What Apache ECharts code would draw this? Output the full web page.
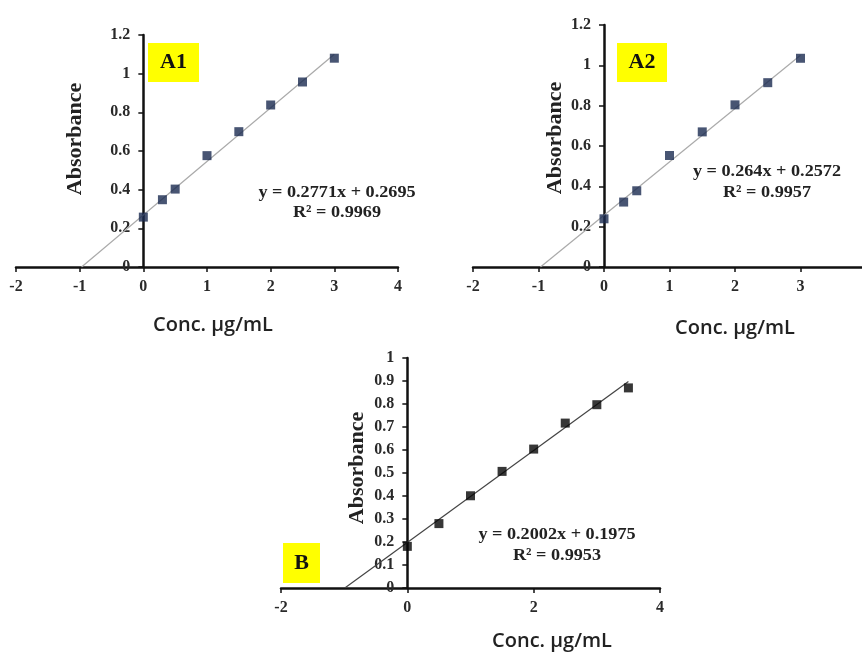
<!DOCTYPE html>
<html><head><meta charset="utf-8">
<script src="https://cdn.jsdelivr.net/npm/echarts@6/dist/echarts.min.js"></script>
<style>html,body{margin:0;padding:0;background:#fff}#c{width:862px;height:653px}</style>
</head><body><div id="c"></div>
<script>
// Panel A1
const concA1 = [0, 0.3, 0.5, 1, 1.5, 2, 2.5, 3];
const absA1 = [0.258, 0.348, 0.403, 0.576, 0.70, 0.838, 0.957, 1.08];
const trendA1 = [[-0.97, 0], [3, 1.10]];
const eqA1 = ['y = 0.2771x + 0.2695', 'R² = 0.9969'];
// Panel A2
const concA2 = [0, 0.3, 0.5, 1, 1.5, 2, 2.5, 3];
const absA2 = [0.239, 0.322, 0.378, 0.553, 0.670, 0.804, 0.914, 1.035];
const trendA2 = [[-0.97, 0], [3, 1.05]];
const eqA2 = ['y = 0.264x + 0.2572', 'R² = 0.9957'];
// Panel B
const concB = [0, 0.5, 1, 1.5, 2, 2.5, 3, 3.5];
const absB = [0.181, 0.28, 0.401, 0.507, 0.604, 0.717, 0.797, 0.87];
const trendB = [[-0.99, 0], [3.5, 0.898]];
const eqB = ['y = 0.2002x + 0.1975', 'R² = 0.9953'];
// Labels
const panelLabels = ['A1', 'A2', 'B'];
const xTitle = 'Conc. µg/mL';
const yTitle = 'Absorbance';

const pairs = (xs, ys) => xs.map((x, i) => [x, ys[i]]);
const serif = 'Liberation Serif';
const axisLbl = {fontFamily: serif, fontWeight: 'bold', fontSize: 16, color: '#2a2a2a'};
const X_MIN = -2, X_MAX = 4;

const grids = [
  {left: 16, top: 35, width: 382, height: 232},
  {left: 473, top: 25, width: 393, height: 242},
  {left: 281, top: 358, width: 379, height: 230}
];
// y axis sits at x = 0 of each panel's x axis
const yOffset = g => -g.width * (0 - X_MIN) / (X_MAX - X_MIN);

function xAx(gi, interval) {
  return {gridIndex: gi, type: 'value', min: X_MIN, max: X_MAX, interval: interval,
    axisLine: {onZero: false, lineStyle: {color: '#111', width: 2.5}},
    axisTick: {show: true, length: 5, lineStyle: {color: '#111', width: 1.5}},
    axisLabel: Object.assign({margin: 12}, axisLbl), splitLine: {show: false}};
}
function yAx(gi, max, interval) {
  return {gridIndex: gi, type: 'value', min: 0, max: max, interval: interval,
    offset: yOffset(grids[gi]),
    axisLine: {show: true, onZero: false, lineStyle: {color: '#111', width: 2.5}},
    axisTick: {show: true, length: 5, lineStyle: {color: '#111', width: 1.5}},
    axisLabel: Object.assign({margin: 13}, axisLbl), splitLine: {show: false}};
}
function scat(i, data, color) {
  return {type: 'scatter', xAxisIndex: i, yAxisIndex: i, data: data, symbol: 'rect', symbolSize: 9,
    itemStyle: {color: color}, z: 5};
}
function trend(i, data, color) {
  return {type: 'line', xAxisIndex: i, yAxisIndex: i, data: data, symbol: 'none',
    lineStyle: {color: color, width: 1.2}, z: 3};
}
function txt(x, y, text, size, rot, sx) {
  const o = {type: 'text', x: x, y: y, style: {text: text, fontFamily: serif,
    fontWeight: 'bold', fontSize: size, fill: '#222', align: 'center', verticalAlign: 'middle'}};
  if (rot) o.rotation = rot;
  if (sx) o.scaleX = sx;
  return o;
}
function label(x, y, w, h, text) {
  return {type: 'group', x: x, y: y, children: [
    {type: 'rect', shape: {x: 0, y: 0, width: w, height: h}, style: {fill: '#ffff00'}},
    {type: 'text', x: w / 2, y: h / 2, style: {text: text, fontFamily: serif, fontWeight: 'bold', fontSize: 22,
      fill: '#111', align: 'center', verticalAlign: 'middle'}}]};
}
function xt(x, y) {
  return {type: 'text', x: x, y: y, style: {text: xTitle, fontFamily: 'Open Sans', fontWeight: 600,
    fontSize: 20, fill: '#222', align: 'center', verticalAlign: 'middle'}};
}

const chart = echarts.init(document.getElementById('c'), null, {renderer: 'canvas'});
chart.setOption({
  animation: false,
  backgroundColor: '#fff',
  grid: grids.map(g => Object.assign({outerBoundsMode: 'none'}, g)),
  xAxis: [xAx(0, 1), xAx(1, 1), xAx(2, 2)],
  yAxis: [yAx(0, 1.2, 0.2), yAx(1, 1.2, 0.2), yAx(2, 1, 0.1)],
  series: [
    trend(0, trendA1, '#aaaaaa'), scat(0, pairs(concA1, absA1), '#1a2a50'),
    trend(1, trendA2, '#aaaaaa'), scat(1, pairs(concA2, absA2), '#1a2a50'),
    trend(2, trendB, '#444'), scat(2, pairs(concB, absB), '#050505')
  ],
  graphic: [
    label(148, 43, 51, 39, panelLabels[0]),
    label(617, 43, 50, 39, panelLabels[1]),
    label(283, 543, 37, 40, panelLabels[2]),
    txt(75, 139, yTitle, 22, Math.PI / 2),
    txt(555, 138, yTitle, 22, Math.PI / 2),
    txt(357, 468, yTitle, 22, Math.PI / 2),
    txt(337, 193, eqA1[0], 17, 0, 1.07), txt(337, 213, eqA1[1], 17, 0, 1.07),
    txt(767, 172, eqA2[0], 17, 0, 1.07), txt(767, 193, eqA2[1], 17, 0, 1.07),
    txt(557, 535, eqB[0], 17, 0, 1.07), txt(557, 556, eqB[1], 17, 0, 1.07),
    xt(213, 325), xt(735, 328), xt(552, 641)
  ]
});
</script></body></html>
